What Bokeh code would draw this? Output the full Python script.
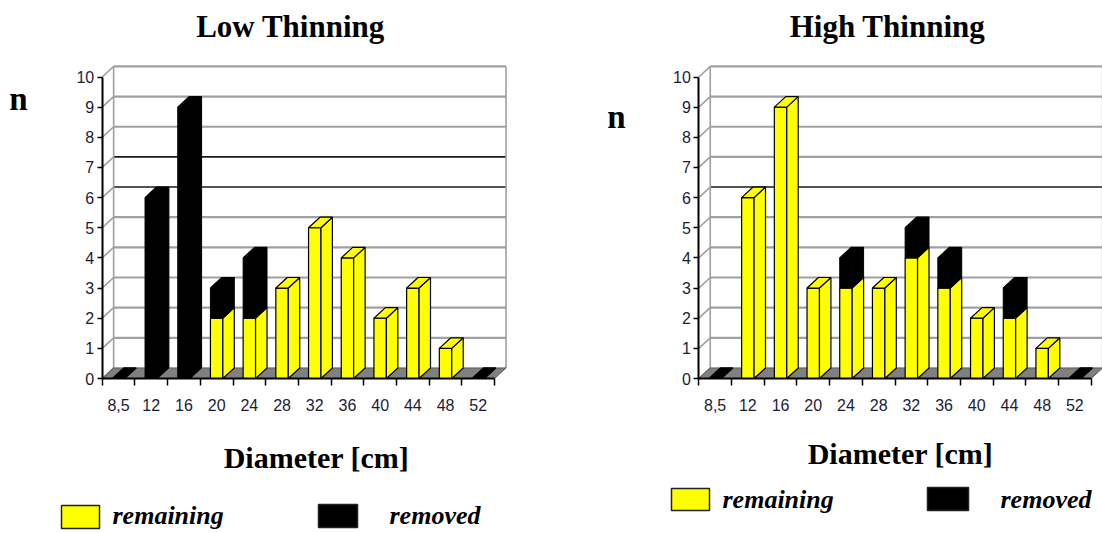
import numpy as np
from bokeh.plotting import figure
from bokeh.models import Range1d, LinearAxis, FixedTicker
from bokeh.layouts import row
from bokeh.embed import file_html
from bokeh.resources import INLINE
from bokeh.core.properties import value

# Diameter classes [cm] and tree counts per class
diameters = ["8,5", "12", "16", "20", "24", "28", "32", "36", "40", "44", "48", "52"]
low_remaining = [0, 0, 0, 2, 2, 3, 5, 4, 2, 3, 1, 0]
low_removed = [0, 6, 9, 1, 2, 0, 0, 0, 0, 0, 0, 0]
high_remaining = [0, 6, 9, 3, 3, 3, 4, 3, 2, 2, 1, 0]
high_removed = [0, 0, 0, 0, 1, 0, 1, 1, 0, 1, 0, 0]
y_ticks = list(range(0, 11))

YELLOW = "#ffff00"
BLACK = "#000000"
FLOOR = "#808080"
GRID = "#a0a0a0"
TICK_TEXT = "#1c1c38"
SERIF = value("Liberation Serif")

# page geometry (pixels)
PANEL_W, PANEL_H = 551, 533
CAT_PX = 32.7      # width of one diameter class
UNIT_PX = 30.15    # height of one tree
BASE_PX = 378      # baseline (n = 0) from the top
TEXT_LIFT = 11     # raise serif texts so their glyphs sit on the intended baseline

# 3-D depth, in data units
DX = 0.35
DY = 0.35
HW = 0.19          # half width of a bar's front face


def make_panel(title, remaining, removed, panel_left, axis_px, dark_levels, texts):
    n = len(diameters)
    lo = -0.5
    x0 = lo - (axis_px - panel_left) / CAT_PX
    x1 = x0 + PANEL_W / CAT_PX
    y0 = -(PANEL_H - BASE_PX) / UNIT_PX
    y1 = BASE_PX / UNIT_PX

    def px_x(gx):
        return lo + (gx - axis_px) / CAT_PX

    def px_y(gy):
        return (BASE_PX - gy) / UNIT_PX

    def txt_y(gy):
        return px_y(gy - TEXT_LIFT)

    p = figure(width=PANEL_W, height=PANEL_H, x_range=Range1d(x0, x1),
               y_range=Range1d(y0, y1), x_axis_type=None, y_axis_type=None,
               output_backend="svg", toolbar_location=None, min_border=0,
               title=None)
    p.outline_line_color = None
    p.background_fill_color = "white"
    p.border_fill_color = "white"

    top = max(y_ticks)
    hi = lo + n

    # back wall with its grid lines
    p.quad(left=lo + DX, right=hi + DX, bottom=DY, top=top + DY,
           fill_color="white", line_color=None)
    light = [k for k in y_ticks[1:] if k not in dark_levels]
    p.segment(x0=[lo + DX] * len(light), x1=[hi + DX] * len(light),
              y0=[k + DY for k in light], y1=[k + DY for k in light],
              line_color=GRID, line_width=2.2)
    if dark_levels:
        p.segment(x0=[lo + DX] * len(dark_levels), x1=[hi + DX] * len(dark_levels),
                  y0=[k + DY for k in dark_levels], y1=[k + DY for k in dark_levels],
                  line_color="#1a1a1a", line_width=1.6)
    # side wall: ticks running back to the wall, and the wall edges
    p.segment(x0=[lo] * len(y_ticks), x1=[lo + DX] * len(y_ticks),
              y0=y_ticks, y1=[k + DY for k in y_ticks],
              line_color=GRID, line_width=1.6)
    p.segment(x0=[lo + DX, hi + DX], x1=[lo + DX, hi + DX],
              y0=[DY, DY], y1=[top + DY, top + DY],
              line_color=GRID, line_width=1.6)

    # floor
    p.patch([lo, hi, hi + DX, lo + DX], [0, 0, DY, DY],
            fill_color=FLOOR, line_color="#5a5a5a", line_width=1)

    # bars
    c = np.arange(n, dtype=float)
    rem = np.array(remaining, dtype=float)
    rmv = np.array(removed, dtype=float)
    tot = rem + rmv
    xl, xr = c - HW, c + HW

    m = rem > 0
    p.quad(left=xl[m], right=xr[m], bottom=0, top=rem[m],
           fill_color=YELLOW, line_color=BLACK, line_width=1.2)
    p.patches(xs=[[a, a + DX, a + DX, a] for a in xr[m]],
              ys=[[0, DY, h + DY, h] for h in rem[m]],
              fill_color=YELLOW, line_color=BLACK, line_width=1.2)

    m = rmv > 0
    p.quad(left=xl[m], right=xr[m], bottom=rem[m], top=tot[m],
           fill_color=BLACK, line_color=BLACK, line_width=1)
    p.patches(xs=[[a, a + DX, a + DX, a] for a in xr[m]],
              ys=[[b, b + DY, h + DY, h] for b, h in zip(rem[m], tot[m])],
              fill_color=BLACK, line_color=BLACK, line_width=1)

    top_colors = [YELLOW if (r > 0 and q == 0) else BLACK for r, q in zip(rem, rmv)]
    p.patches(xs=[[a, b, b + DX, a + DX] for a, b in zip(xl, xr)],
              ys=[[h, h, h + DY, h + DY] for h in tot],
              fill_color=top_colors, line_color=BLACK, line_width=1.2)

    # axes
    yaxis = LinearAxis(fixed_location=lo, bounds=(0, top),
                       ticker=FixedTicker(ticks=y_ticks))
    yaxis.axis_line_color = BLACK
    yaxis.axis_line_width = 2
    yaxis.major_tick_out = 5
    yaxis.major_tick_in = 0
    yaxis.major_tick_line_width = 1.5
    yaxis.minor_tick_out = 0
    yaxis.minor_tick_in = 0
    yaxis.major_label_standoff = 3
    yaxis.major_label_text_font = "Liberation Sans"
    yaxis.major_label_text_font_size = "16px"
    yaxis.major_label_text_color = TICK_TEXT
    p.add_layout(yaxis, "left")

    xaxis = LinearAxis(fixed_location=0, bounds=(lo, hi),
                       ticker=FixedTicker(ticks=list(range(n)),
                                          minor_ticks=[k + lo for k in range(n + 1)]),
                       major_label_overrides={i: d for i, d in enumerate(diameters)})
    xaxis.axis_line_color = BLACK
    xaxis.axis_line_width = 2
    xaxis.major_tick_out = 0
    xaxis.major_tick_in = 0
    xaxis.minor_tick_out = 7
    xaxis.minor_tick_in = 0
    xaxis.minor_tick_line_color = BLACK
    xaxis.minor_tick_line_width = 1.5
    xaxis.major_label_standoff = 13
    xaxis.major_label_text_font = "Liberation Sans"
    xaxis.major_label_text_font_size = "16px"
    xaxis.major_label_text_color = TICK_TEXT
    p.add_layout(xaxis, "below")

    # titles and labels
    t = texts
    p.text(x=[px_x(t["title"][0])], y=[txt_y(t["title"][1])], text=[title],
           text_font=SERIF, text_font_style="bold", text_font_size="31px",
           text_align="center", text_baseline="alphabetic", text_color=BLACK)
    p.text(x=[px_x(t["n"][0])], y=[txt_y(t["n"][1])], text=["n"],
           text_font=SERIF, text_font_style="bold", text_font_size="33px",
           text_align="center", text_baseline="alphabetic", text_color=BLACK)
    p.text(x=[px_x(t["xlabel"][0])], y=[txt_y(t["xlabel"][1])], text=["Diameter [cm]"],
           text_font=SERIF, text_font_style="bold", text_font_size="30px",
           text_align="center", text_baseline="alphabetic", text_color=BLACK)

    # legend
    for key, fill, label in (("rem", YELLOW, "remaining"), ("rmv", BLACK, "removed")):
        bl, bt, br, bb = t[key + "_box"]
        p.quad(left=px_x(bl), right=px_x(br), top=px_y(bt), bottom=px_y(bb),
               fill_color=fill, line_color="#222222", line_width=1.5)
        tx, ty = t[key + "_text"]
        p.text(x=[px_x(tx)], y=[txt_y(ty)], text=[label],
               text_font=SERIF, text_font_style="bold italic", text_font_size="26px",
               text_align="left", text_baseline="alphabetic", text_color=BLACK)
    return p


left = make_panel(
    "Low Thinning", low_remaining, low_removed, 0, 101.7, [6, 7],
    {"title": (290, 37), "n": (18, 109), "xlabel": (316, 468),
     "rem_box": (61, 505, 99, 528), "rem_text": (112, 526),
     "rmv_box": (318, 504, 357, 527), "rmv_text": (389, 526)})
right = make_panel(
    "High Thinning", high_remaining, high_removed, 551, 698.3, [6],
    {"title": (887, 37), "n": (616, 127), "xlabel": (900, 464),
     "rem_box": (671, 488, 709, 510), "rem_text": (722, 510),
     "rmv_box": (927, 487, 968, 510), "rmv_text": (1000, 510)})

layout = row(left, right)
open("out.html", "w").write(file_html(layout, INLINE))
